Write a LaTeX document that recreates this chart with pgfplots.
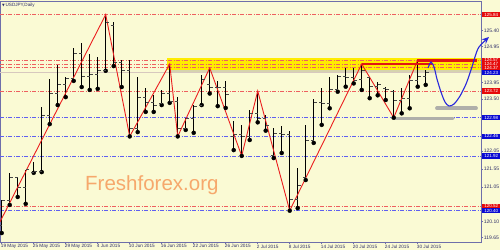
\documentclass[border=0pt]{standalone}
\usepackage{pgfplots}
\pgfplotsset{compat=1.18}
\usepackage{pgfplotstable}
\usepackage{fontspec}
\setmainfont{Liberation Sans}
\newfontfamily\dejavu{DejaVu Sans}
\usetikzlibrary{arrows.meta}

\definecolor{bgc}{RGB}{250,250,212}
\definecolor{axc}{RGB}{110,110,170}
\definecolor{labc}{RGB}{45,45,105}
\definecolor{redl}{RGB}{238,95,95}
\definecolor{bluel}{RGB}{95,95,240}
\definecolor{zigc}{RGB}{235,30,30}
\definecolor{tickc}{RGB}{70,70,70}
\definecolor{bandc}{RGB}{255,236,0}
\definecolor{shadowc}{RGB}{190,185,150}
\definecolor{thickred}{RGB}{225,20,20}
\definecolor{greyb}{RGB}{175,175,170}
\definecolor{fcol}{RGB}{40,40,220}
\definecolor{rbox}{RGB}{230,10,10}
\definecolor{bbox}{RGB}{10,10,210}
\definecolor{wm}{RGB}{246,168,108}

\pgfplotstableread{
i O H L C
0 120.00 120.70 119.78 120.67
1 120.67 121.45 120.56 121.31
2 121.31 121.33 120.78 121.03
3 121.03 121.53 120.59 121.53
4 121.47 121.75 121.45 121.50
5 121.50 123.28 121.47 123.05
6 123.05 124.05 122.80 123.64
7 123.64 124.44 123.33 123.91
8 123.89 124.11 123.55 124.08
9 124.08 124.91 124.00 124.77
10 124.77 125.05 123.83 124.11
11 124.11 124.75 123.75 124.19
12 124.19 124.66 123.78 124.30
13 124.30 125.84 124.28 125.61
14 125.55 125.63 124.41 124.52
15 124.52 124.58 123.83 124.30
16 124.30 124.58 122.46 122.69
17 122.69 124.11 122.58 123.53
18 123.53 123.80 123.14 123.39
19 123.39 123.61 123.14 123.33
20 123.36 123.75 123.33 123.64
21 123.64 124.47 123.39 123.42
22 123.42 123.56 122.46 122.69
23 122.67 122.97 122.64 122.97
24 122.97 123.33 122.56 123.30
25 123.33 124.16 123.33 124.05
26 123.91 124.36 123.65 123.83
27 123.83 123.99 123.30 123.83
28 123.83 123.99 123.25 123.63
29 122.47 122.90 122.08 122.50
30 122.50 122.78 121.92 122.47
31 122.47 123.19 122.36 123.10
32 123.10 123.72 122.85 122.95
33 122.95 123.05 122.62 122.75
34 121.94 122.70 121.86 122.53
35 122.53 122.75 122.00 122.50
36 122.50 122.60 120.40 120.70
37 120.70 121.58 120.47 121.09
38 121.31 122.77 121.25 122.36
39 122.36 123.51 122.28 123.39
40 123.39 123.80 122.78 123.38
41 123.38 124.11 123.24 123.75
42 123.75 124.16 123.70 124.13
43 124.13 124.35 123.84 124.10
44 124.10 124.35 123.93 124.02
45 124.05 124.47 123.75 124.28
46 124.10 124.11 123.52 123.84
47 123.84 123.98 123.60 123.89
48 123.78 123.84 123.47 123.75
49 123.70 123.75 122.98 123.45
50 123.45 123.80 123.10 123.52
51 123.52 124.16 123.24 124.00
52 124.00 124.58 123.84 124.11
53 124.11 124.30 123.89 124.23
}\bars

\tikzset{
  pl/.style={anchor=west, inner sep=0pt, minimum width=18pt, minimum height=5.6pt,
    font=\fontsize{4.5}{4.5}\selectfont, text=white, xshift=1pt},
  dd/.style={line width=0.6pt, dash pattern=on 4pt off 1.5pt on 1pt off 1.5pt}
}

\begin{document}
\begin{tikzpicture}[x=1pt,y=1pt]
\fill[bgc] (0,0) rectangle (500,250);
\path[use as bounding box] (0,0) rectangle (500,250);
\begin{axis}[
  at={(0pt,8pt)}, anchor=south west,
  width=481pt, height=241pt, scale only axis,
  xmin=-0.2125, xmax=59.9125, ymin=119.531, ymax=126.216,
  clip=false,
  axis line style={draw=axc, line width=0.7pt},
  tick style={draw=axc, line width=0.6pt},
  tick align=outside, major tick length=2.2pt,
  xtick pos=left, ytick pos=right,
  yticklabel pos=right,
  xtick={0,4,...,52},
  xticklabels={19 May 2015,25 May 2015,29 May 2015,4 Jun 2015,10 Jun 2015,16 Jun 2015,22 Jun 2015,26 Jun 2015,2 Jul 2015,8 Jul 2015,14 Jul 2015,20 Jul 2015,24 Jul 2015,30 Jul 2015},
  xticklabel style={anchor=north west, font=\fontsize{4.7}{5}\selectfont, text=labc, inner sep=0pt, xshift=-1pt, yshift=-0.3pt},
  ytick={125.40,124.95,123.95,123.50,122.05,121.55,121.05,120.10,119.65},
  yticklabels={125.40,124.95,123.95,123.50,122.05,121.55,121.05,120.10,119.65},
  yticklabel style={anchor=west, font=\fontsize{5}{5}\selectfont, text=labc, inner sep=0pt, xshift=0.5pt},
]
% yellow zone
\addplot[draw=none, fill=shadowc, fill opacity=0.6] coordinates {(20.9,124.21) (59.9125,124.21) (59.9125,124.30) (20.9,124.30)};
\addplot[draw=none, fill=bandc] coordinates {(20.7,124.30) (59.9125,124.30) (59.9125,124.63) (20.7,124.63)};
% bid line
\addplot[draw={rgb,255:red,215;green,200;blue,190}, line width=0.5pt] coordinates {(-0.2125,124.23) (59.9125,124.23)};
% levels
\addplot[redl, dd] coordinates {(-0.2125,125.84) (59.9125,125.84)};
\addplot[redl, dd] coordinates {(-0.2125,124.57) (59.9125,124.57)};
\addplot[redl, dd] coordinates {(-0.2125,124.47) (59.9125,124.47)};
\addplot[redl, dd] coordinates {(-0.2125,124.37) (59.9125,124.37)};
\addplot[redl, dd] coordinates {(-0.2125,123.72) (59.9125,123.72)};
\addplot[redl, dd] coordinates {(-0.2125,120.52) (59.9125,120.52)};
\addplot[bluel, dd] coordinates {(-0.2125,122.98) (59.9125,122.98)};
\addplot[bluel, dd] coordinates {(-0.2125,122.46) (59.9125,122.46)};
\addplot[bluel, dd] coordinates {(-0.2125,121.92) (59.9125,121.92)};
\addplot[bluel, dd] coordinates {(-0.2125,120.40) (59.9125,120.40)};
% OHLC bars
\addplot[only marks, mark=none, error bars/.cd, y dir=plus, y explicit, error mark=none,
  error bar style={draw=black, line width=1.1pt}]
  table[x=i, y=L, y error expr=\thisrow{H}-\thisrow{L}] {\bars};
\addplot[only marks, mark=-, mark size=1.5pt, mark options={xshift=-1.5pt, draw=tickc, line width=1pt}] table[x=i, y=O] {\bars};
\addplot[only marks, mark=-, mark size=1.5pt, mark options={xshift=1.5pt, draw=tickc, line width=1pt}] table[x=i, y=C] {\bars};
% zigzag
\addplot[zigc, line width=0.9pt] coordinates {(-0.2125,120.09) (13,125.84) (16,122.46) (21,124.47) (22,122.46) (26,124.36) (30,121.92) (32,123.72) (36,120.40) (45,124.47) (49,122.98) (52,124.58)};
% resistance strokes
\addplot[draw=thickred, line width=2.6pt] coordinates {(45,124.47) (53.75,124.47)};
\addplot[draw=thickred, line width=2.6pt] coordinates {(51.9,124.57) (59.4,124.57)};
% grey support strokes
\addplot[draw=greyb, line width=3.6pt, line cap=round] coordinates {(48.9,122.955) (56.4,122.955)};
\addplot[draw=greyb, line width=3.6pt, line cap=round] coordinates {(54.4,123.24) (59.3,123.24)};
% forecast path
\addplot[fcol, line width=1.1pt, smooth, -{Stealth[length=7pt,width=6pt]}] coordinates {(53.29,124.358) (53.66,124.524) (54.04,124.385) (54.41,124.053) (54.91,123.692) (55.41,123.415) (55.91,123.304) (56.54,123.359) (57.29,123.581) (58.04,123.914) (58.66,124.302) (59.16,124.663) (59.66,124.940) (60.91,125.218)};
% price labels
\node[pl, fill=rbox] at (axis cs:59.9125,125.84) {125.84};
\node[pl, fill=rbox] at (axis cs:59.9125,124.57) {124.57};
\node[pl, fill=rbox] at (axis cs:59.9125,124.47) {124.47};
\node[pl, fill=rbox] at (axis cs:59.9125,124.37) {124.37};
\node[pl, fill=bbox] at (axis cs:59.9125,124.23) {124.23};
\node[pl, fill=rbox] at (axis cs:59.9125,123.72) {123.72};
\node[pl, fill=bbox] at (axis cs:59.9125,122.98) {122.98};
\node[pl, fill=bbox] at (axis cs:59.9125,122.46) {122.46};
\node[pl, fill=bbox] at (axis cs:59.9125,121.92) {121.92};
\node[pl, fill=rbox] at (axis cs:59.9125,120.52) {120.52};
\node[pl, fill=bbox] at (axis cs:59.9125,120.40) {120.40};
\end{axis}
\node[anchor=west, inner sep=0pt, text=labc, font=\fontsize{4.6}{5}\selectfont] at (2,245) {{\dejavu\fontsize{3.5}{4}\selectfont ▼}\,USDJPY,Daily};
\node[anchor=base west, inner sep=0pt, text=wm, font=\fontsize{20.5}{21}\selectfont] at (85,59.3) {Freshforex.org};
\end{tikzpicture}
\end{document}
